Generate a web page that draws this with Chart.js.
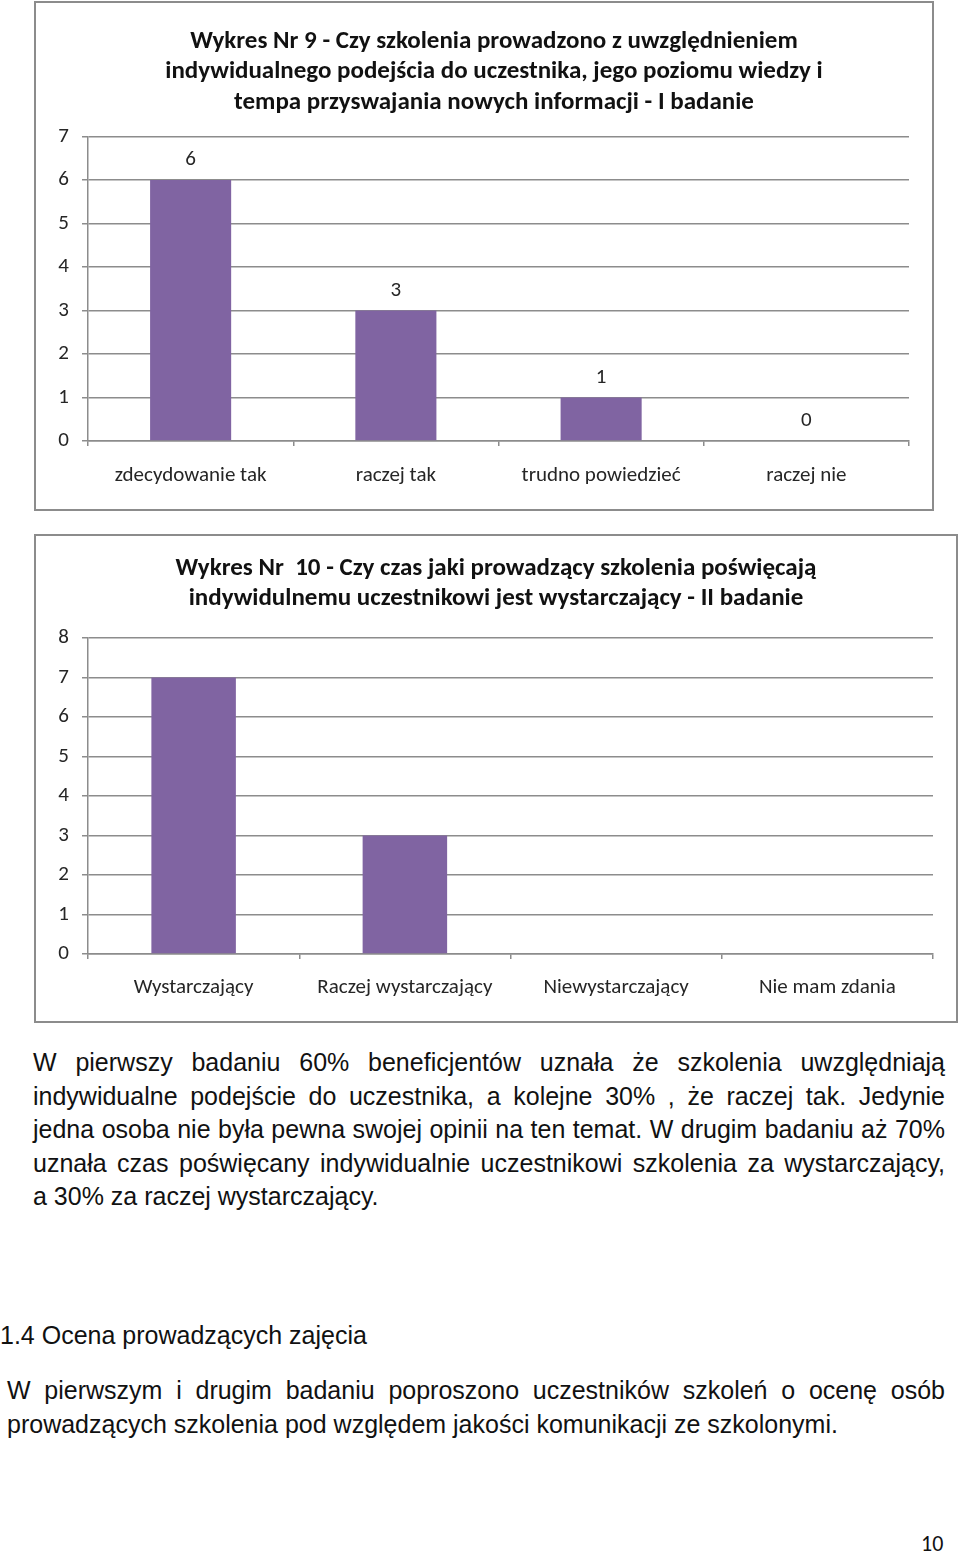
<!DOCTYPE html>
<html lang="pl">
<head>
<meta charset="utf-8">
<script src="https://cdn.jsdelivr.net/npm/chart.js@4.4.1/dist/chart.umd.min.js"></script>
<style>
  html, body { margin: 0; padding: 0; background: #fff; }
  body { width: 960px; height: 1554px; position: relative; overflow: hidden; }
  .ramka { position: absolute; border: 2px solid #8c8c8c; box-sizing: border-box; background: #fff; overflow: hidden; }
  .ramka canvas { position: absolute; top: 0; }
  .tekst { position: absolute; font-family: "Liberation Sans", Arial, Helvetica, sans-serif; color: #111; font-size: 25px; }
  .tekst span { display: block; }
  .just { text-align: justify; text-align-last: justify; }
  .numer { position: absolute; left: 921px; top: 1530px; font-family: Carlito, Lato, sans-serif; font-size: 22px; color: #111; }
</style>
</head>
<body>

<div class="ramka" style="left:34px; top:1px; width:900px; height:510px;">
  <canvas id="wykres9" style="left:20px;"></canvas>
</div>

<div class="ramka" style="left:34px; top:534px; width:924px; height:489px;">
  <canvas id="wykres10" style="left:0px;"></canvas>
</div>

<div class="tekst" style="left:33px; top:1046px; width:912px; line-height:33.5px;">
  <span class="just">W pierwszy badaniu 60% beneficjentów uznała że szkolenia uwzględniają</span>
  <span class="just">indywidualne podejście do uczestnika, a kolejne 30% , że raczej tak. Jedynie</span>
  <span class="just">jedna osoba nie była pewna swojej opinii na ten temat. W drugim badaniu aż 70%</span>
  <span class="just">uznała czas poświęcany indywidualnie uczestnikowi szkolenia za wystarczający,</span>
  <span>a 30% za raczej wystarczający.</span>
</div>

<div class="tekst" style="left:0px; top:1319px; line-height:33px;">
  <span>1.4 Ocena prowadzących zajęcia</span>
</div>

<div class="tekst" style="left:7px; top:1373px; width:938px; line-height:34px;">
  <span class="just">W pierwszym i drugim badaniu poproszono uczestników szkoleń o ocenę osób</span>
  <span>prowadzących szkolenia pod względem jakości komunikacji ze szkolonymi.</span>
</div>

<div class="numer">10</div>

<script>
/* =========================
   Wykresy 9 i 10
========================= */

const TYTUL_9 = [
  'Wykres Nr 9 - Czy szkolenia prowadzono z uwzględnieniem',
  'indywidualnego podejścia do uczestnika, jego poziomu wiedzy i',
  'tempa przyswajania nowych informacji - I badanie'
];
const KATEGORIE_9 = ['zdecydowanie tak', 'raczej tak', 'trudno powiedzieć', 'raczej nie'];
const WARTOSCI_9 = [6, 3, 1, 0];
const MAX_Y_9 = 7;

const TYTUL_10 = [
  'Wykres Nr  10 - Czy czas jaki prowadzący szkolenia poświęcają',
  'indywidulnemu uczestnikowi jest wystarczający - II badanie'
];
const KATEGORIE_10 = ['Wystarczający', 'Raczej wystarczający', 'Niewystarczający', 'Nie mam zdania'];
const WARTOSCI_10 = [7, 3, 0, 0];
const MAX_Y_10 = 8;

const FIOLET = '#8064a2';
const SZARY = '#8c8c8c';
const FONT = 'Carlito, Lato, sans-serif';

// etykiety wartości nad słupkami
const etykietyWartosci = {
  id: 'etykietyWartosci',
  afterDatasetsDraw(chart, args, opts) {
    if (!opts.pokaz) return;
    const ctx = chart.ctx;
    const meta = chart.getDatasetMeta(0);
    ctx.save();
    ctx.font = `21px ${FONT}`;
    ctx.fillStyle = '#262626';
    ctx.textAlign = 'center';
    ctx.textBaseline = 'middle';
    meta.data.forEach((bar, i) => {
      ctx.fillText(String(chart.data.datasets[0].data[i]), bar.x, bar.y - 20);
    });
    ctx.restore();
  }
};

function zrobWykres(id, cfg) {
  const el = document.getElementById(id);
  el.width = cfg.szer;
  el.height = cfg.wys;
  el.style.width = cfg.szer + 'px';
  el.style.height = cfg.wys + 'px';

  return new Chart(el.getContext('2d'), {
    type: 'bar',
    data: {
      labels: cfg.kategorie,
      datasets: [{
        data: cfg.wartosci,
        backgroundColor: FIOLET,
        borderWidth: 0,
        categoryPercentage: 1,
        barPercentage: cfg.szerSlupka
      }]
    },
    plugins: [etykietyWartosci],
    options: {
      responsive: false,
      animation: false,
      devicePixelRatio: 1,
      layout: { padding: 0 },
      plugins: {
        legend: { display: false },
        tooltip: { enabled: false },
        etykietyWartosci: { pokaz: cfg.etykiety },
        title: {
          display: true,
          text: cfg.tytul,
          color: '#111',
          font: { family: FONT, size: 25, weight: 'bold', lineHeight: cfg.tytulLinia },
          padding: { top: cfg.tytulGora, bottom: cfg.tytulDol }
        }
      },
      scales: {
        x: {
          grid: { display: true, drawOnChartArea: false, offset: true, color: SZARY, lineWidth: 1.5, tickLength: 5 },
          border: { display: true, color: SZARY, width: 1.5 },
          ticks: { color: '#262626', font: { family: FONT, size: 21 }, padding: cfg.xPad, maxRotation: 0 },
          afterFit: s => { s.height = cfg.wysX; }
        },
        y: {
          min: 0,
          max: cfg.maxY,
          grid: { color: SZARY, lineWidth: 1.5, tickLength: 6 },
          border: { display: true, color: SZARY, width: 1.5 },
          ticks: { stepSize: 1, color: '#262626', font: { family: FONT, size: 21 }, padding: 13 },
          afterFit: s => { s.width = cfg.szerY; }
        },
        // pusta oś po prawej, tylko żeby odsunąć obszar wykresu od ramki
        prawa: {
          type: 'linear',
          position: 'right',
          display: true,
          grid: { display: false },
          border: { display: false },
          ticks: { display: false },
          afterFit: s => { s.width = 23; }
        }
      }
    }
  });
}

zrobWykres('wykres9', {
  szer: 876, wys: 506,
  tytul: TYTUL_9, kategorie: KATEGORIE_9, wartosci: WARTOSCI_9, maxY: MAX_Y_9,
  szerSlupka: 0.395, etykiety: true,
  szerY: 32, wysX: 68, xPad: 17,
  tytulLinia: 1.22, tytulGora: 23.25, tytulDol: 18.75
});

zrobWykres('wykres10', {
  szer: 920, wys: 485,
  tytul: TYTUL_10, kategorie: KATEGORIE_10, wartosci: WARTOSCI_10, maxY: MAX_Y_10,
  szerSlupka: 0.4, etykiety: false,
  szerY: 52, wysX: 67, xPad: 16,
  tytulLinia: 1.2, tytulGora: 18, tytulDol: 24
});
</script>
</body>
</html>
